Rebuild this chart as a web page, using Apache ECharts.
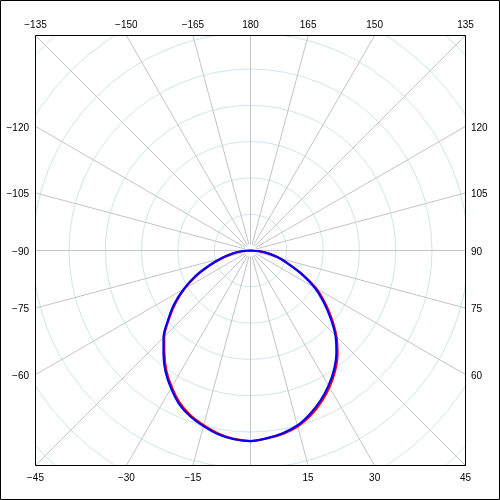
<!DOCTYPE html>
<html>
<head>
<meta charset="utf-8">
<title>Polar pattern</title>
<script src="https://cdn.jsdelivr.net/npm/echarts@6/dist/echarts.min.js"></script>
<style>
  html, body { margin: 0; padding: 0; background: #fff; }
  #chart { width: 500px; height: 500px; }
</style>
</head>
<body>
<div id="chart"></div>
<script>
// angle in degrees: 0 at the bottom, positive going round to the right
const angles = [-90, -85, -80, -75, -70, -65, -60, -55, -50, -45, -40, -35, -30, -25, -20, -15, -10, -5,
  0, 5, 10, 15, 20, 25, 30, 35, 40, 45, 50, 55, 60, 65, 70, 75, 80, 85, 90];

// radius, one grid ring = 1
const redValues = [0, 0.24, 0.50, 0.80, 1.18, 1.64, 2.09, 2.52, 2.93, 3.36, 3.69, 4.04, 4.34, 4.62, 4.83, 4.98, 5.12, 5.21,
  5.25, 5.20, 5.13, 5.02, 4.84, 4.61, 4.35, 4.06, 3.73, 3.35, 2.92, 2.50, 2.09, 1.61, 1.16, 0.85, 0.54, 0.26, 0];
const blueValues = [0, 0.25, 0.52, 0.83, 1.21, 1.68, 2.12, 2.56, 2.96, 3.39, 3.73, 4.08, 4.38, 4.66, 4.86, 5.01, 5.14, 5.22,
  5.25, 5.19, 5.11, 4.99, 4.79, 4.56, 4.30, 4.01, 3.68, 3.31, 2.87, 2.45, 2.04, 1.57, 1.13, 0.83, 0.52, 0.25, 0];

// labels printed round the frame (no 0 label in the original)
const angleLabels = [-165, -150, -135, -120, -105, -90, -75, -60, -45, -30, -15,
  15, 30, 45, 60, 75, 90, 105, 120, 135, 150, 165, 180];

const chart = echarts.init(document.getElementById('chart'));

// frame geometry
const cx = 250.5;
const cy = 250.5;
const half = 215;
const outerR = 305;
const ringPx = 36.3;

const pairs = (vals) => vals.map((v, i) => [v, angles[i]]);

// put each angle label where its spoke meets the square frame
function labelFor(a) {
  const rad = a * Math.PI / 180;
  const dx = Math.sin(rad);
  const dy = Math.cos(rad);
  const text = String(a).replace('-', '\u2212');
  const base = { type: 'text', z: 110, silent: true };
  const font = '10px "Liberation Sans", Arial, sans-serif';
  if (Math.abs(dy) >= Math.abs(dx) - 1e-9) {
    return Object.assign(base, {
      x: cx + half * dx / Math.abs(dy),
      y: dy < 0 ? 25 : 478,
      style: { text, font, fill: '#000', align: 'center', verticalAlign: 'middle', textAlign: 'center', textVerticalAlign: 'middle' }
    });
  }
  const left = dx < 0;
  return Object.assign(base, {
    x: left ? 29 : 471,
    y: cy + half * dy / Math.abs(dx) + 1.5,
    style: { text, font, fill: '#000', align: left ? 'right' : 'left', verticalAlign: 'middle',
      textAlign: left ? 'right' : 'left', textVerticalAlign: 'middle' }
  });
}

const masks = [
  [0, 0, 500, 35], [0, 466, 500, 34], [0, 0, 35, 500], [466, 0, 34, 500]
].map(r => ({
  type: 'rect', z: 100, silent: true,
  shape: { x: r[0], y: r[1], width: r[2], height: r[3] },
  style: { fill: '#fff' }
}));

chart.setOption({
  animation: false,
  backgroundColor: '#fff',
  polar: [
    { center: [cx, cy], radius: [6, outerR] },
    { center: [cx, cy], radius: [0, outerR] }
  ],
  angleAxis: [
    {
      polarIndex: 0, type: 'value', min: -180, max: 180, interval: 15,
      startAngle: 90, clockwise: false,
      axisLine: { show: false }, axisTick: { show: false }, axisLabel: { show: false },
      splitLine: { show: true, lineStyle: { color: '#c4c4c4', width: 1 } }
    },
    {
      polarIndex: 1, type: 'value', min: -180, max: 180, interval: 15,
      startAngle: 90, clockwise: false,
      axisLine: { show: false }, axisTick: { show: false }, axisLabel: { show: false },
      splitLine: { show: false }
    }
  ],
  radiusAxis: [
    {
      polarIndex: 0, type: 'value', min: 0, max: 1,
      axisLine: { show: false }, axisTick: { show: false }, axisLabel: { show: false },
      splitLine: { show: false }
    },
    {
      polarIndex: 1, type: 'value', min: 0, max: outerR / ringPx, interval: 1,
      axisLine: { show: false }, axisTick: { show: false }, axisLabel: { show: false },
      splitLine: { show: true, lineStyle: { color: '#cde6ee', width: 1 } }
    }
  ],
  series: [
    {
      name: 'red', type: 'line', coordinateSystem: 'polar', polarIndex: 1,
      data: pairs(redValues), showSymbol: false, smooth: 0.3,
      lineStyle: { color: '#ff0000', width: 2.2 }, z: 3
    },
    {
      name: 'blue', type: 'line', coordinateSystem: 'polar', polarIndex: 1,
      data: pairs(blueValues), showSymbol: false, smooth: 0.3,
      lineStyle: { color: '#0000ff', width: 2.2 }, z: 4
    }
  ],
  graphic: {
    elements: masks.concat([
      {
        type: 'rect', z: 105, silent: true,
        shape: { x: 35.5, y: 35.5, width: 430, height: 430 },
        style: { fill: null, stroke: '#000', lineWidth: 1 }
      },
      {
        type: 'rect', z: 105, silent: true,
        shape: { x: 0.5, y: 0.5, width: 499, height: 499 },
        style: { fill: null, stroke: '#000', lineWidth: 1 }
      }
    ]).concat(angleLabels.map(labelFor))
  }
});
</script>
</body>
</html>
